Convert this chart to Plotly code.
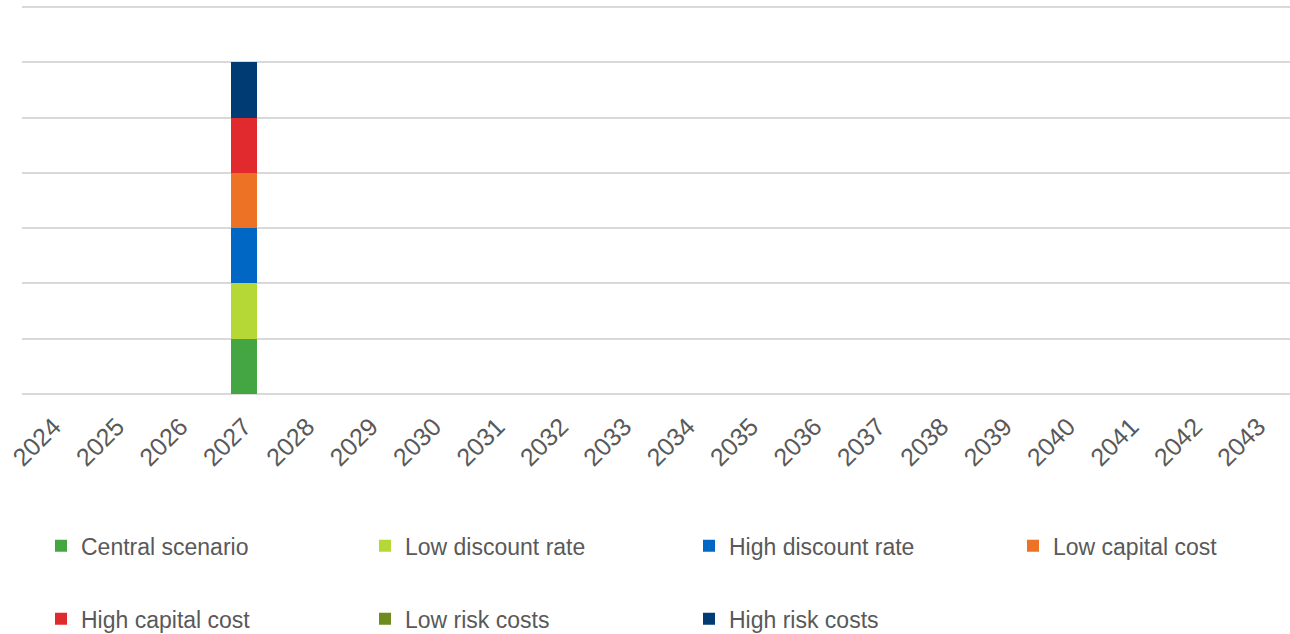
import plotly.graph_objects as go

years = [str(y) for y in range(2024, 2044)]

central_scenario   = [0, 0, 0, 1] + [0] * 16
low_discount_rate  = [0, 0, 0, 1] + [0] * 16
high_discount_rate = [0, 0, 0, 1] + [0] * 16
low_capital_cost   = [0, 0, 0, 1] + [0] * 16
high_capital_cost  = [0, 0, 0, 1] + [0] * 16
low_risk_costs     = [0, 0, 0, 0] + [0] * 16
high_risk_costs    = [0, 0, 0, 1] + [0] * 16

series = [
    ("Central scenario", central_scenario, "#44A643", "legend"),
    ("Low discount rate", low_discount_rate, "#B5D837", "legend"),
    ("High discount rate", high_discount_rate, "#0068C4", "legend"),
    ("Low capital cost", low_capital_cost, "#EE7226", "legend3"),
    ("High capital cost", high_capital_cost, "#E02A2D", "legend2"),
    ("Low risk costs", low_risk_costs, "#6F8A1E", "legend2"),
    ("High risk costs", high_risk_costs, "#003B73", "legend2"),
]

fig = go.Figure()
for name, vals, color, lg in series:
    fig.add_trace(go.Bar(
        x=years, y=vals, name=name, marker_color=color,
        marker_line_width=0, legend=lg,
    ))

font_color = "#595959"
legend_common = dict(
    orientation="h",
    traceorder="normal",
    entrywidth=279, entrywidthmode="pixels",
    font=dict(family="Liberation Sans, Arial", size=23, color=font_color),
    bgcolor="rgba(0,0,0,0)",
    xanchor="left", yanchor="middle",
    itemwidth=30,
)

# plot area: y px 7 (value 7) .. 394 (value 0)
top_px, bot_px = 7, 394
ymax = 7.04
ph = (bot_px - top_px) * ymax / 7.0
t_margin = bot_px - ph
left_px, pw = 22, 1268

def ypaper(px):
    return (bot_px - px) / ph

def xpaper(px):
    return (px - left_px) / pw

fig.update_layout(
    barmode="stack",
    bargap=0.59,
    width=1290, height=634,
    margin=dict(l=left_px, r=0, t=t_margin, b=634 - bot_px, autoexpand=False),
    paper_bgcolor="white",
    plot_bgcolor="white",
    font=dict(family="Liberation Sans, Arial", color=font_color),
    xaxis=dict(
        type="category",
        tickangle=-45,
        tickfont=dict(size=25, color=font_color),
        showgrid=False,
        showline=False,
        ticks="",
        automargin=False,
        ticklabelstandoff=12,
    ),
    yaxis=dict(
        range=[0, ymax],
        dtick=1,
        showticklabels=False,
        showgrid=True,
        gridcolor="#D9D9D9",
        gridwidth=1.5,
        zeroline=True,
        zerolinecolor="#D9D9D9",
        zerolinewidth=1.5,
        automargin=False,
    ),
    legend=dict(x=xpaper(41), y=ypaper(546), **legend_common),
    legend3=dict(x=xpaper(41 + 3 * 324), y=ypaper(546), **legend_common),
    legend2=dict(x=xpaper(41), y=ypaper(619), **legend_common),
    showlegend=True,
)

fig.write_html("out.html")
